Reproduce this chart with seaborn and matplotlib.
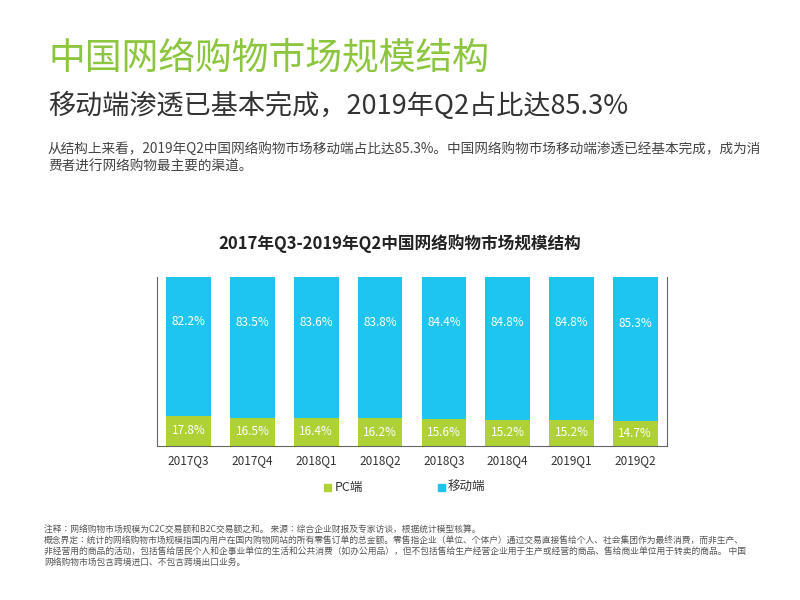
import pandas as pd
import matplotlib.pyplot as plt
import seaborn as sns

plt.rcParams['font.family'] = ['Noto Sans CJK SC', 'Noto Sans CJK JP', 'Noto Sans CJK TC', 'Noto Sans CJK KR', 'DejaVu Sans']

quarters = ['2017Q3', '2017Q4', '2018Q1', '2018Q2', '2018Q3', '2018Q4', '2019Q1', '2019Q2']
pc_share = [17.8, 16.5, 16.4, 16.2, 15.6, 15.2, 15.2, 14.7]
mobile_share = [82.2, 83.5, 83.6, 83.8, 84.4, 84.8, 84.8, 85.3]

green = '#aed136'
blue = '#1ec6ef'

df = pd.DataFrame({'quarter': quarters, 'pc': pc_share, 'mobile': mobile_share})
df['total'] = df['pc'] + df['mobile']

fig = plt.figure(figsize=(8, 6), dpi=100)

fig.text(0.06, 0.885, '中国网络购物市场规模结构', fontsize=26.5, color='#8cc63f')
fig.text(0.06, 0.81, '移动端渗透已基本完成，2019年Q2占比达85.3%', fontsize=19.5, color='#333333')
fig.text(0.06, 0.71, '从结构上来看，2019年Q2中国网络购物市场移动端占比达85.3%。中国网络购物市场移动端渗透已经基本完成，成为消\n费者进行网络购物最主要的渠道。',
         fontsize=9.8, color='#444444', linespacing=1.4, va='bottom')
fig.text(0.5, 0.585, '2017年Q3-2019年Q2中国网络购物市场规模结构', fontsize=12, fontweight='bold',
         ha='center', color='#222222')

ax = fig.add_axes([0.196, 0.257, 0.638, 0.281])
sns.barplot(data=df, x='quarter', y='total', color=blue, width=0.7, ax=ax, saturation=1)
sns.barplot(data=df, x='quarter', y='pc', color=green, width=0.7, ax=ax, saturation=1)

for i in range(len(quarters)):
    ax.text(i, pc_share[i] / 2, f'{pc_share[i]:.1f}%', ha='center', va='center', color='white', fontsize=8.5)
    ax.text(i, pc_share[i] + mobile_share[i] * 0.68, f'{mobile_share[i]:.1f}%', ha='center', va='center',
            color='white', fontsize=8.5)

ax.set_ylim(0, 100)
ax.set_xlim(-0.5, len(quarters) - 0.5)
ax.set_yticks([])
ax.set_xlabel('')
ax.set_ylabel('')
ax.tick_params(axis='x', length=0, labelsize=8.5, colors='#333333', pad=6)
ax.spines['top'].set_visible(False)
for s in ['left', 'right', 'bottom']:
    ax.spines[s].set_color('#666666')
    ax.spines[s].set_linewidth(0.8)

fig.patches.append(plt.Rectangle((0.405, 0.182), 0.009, 0.012, transform=fig.transFigure, color=green))
fig.text(0.418, 0.188, 'PC端', fontsize=9, va='center', color='#333333')
fig.patches.append(plt.Rectangle((0.547, 0.182), 0.009, 0.012, transform=fig.transFigure, color=blue))
fig.text(0.56, 0.188, '移动端', fontsize=9, va='center', color='#333333')

fig.text(0.055, 0.055, '注释：网络购物市场规模为C2C交易额和B2C交易额之和。 来源：综合企业财报及专家访谈，根据统计模型核算。\n'
         '概念界定：统计的网络购物市场规模指国内用户在国内购物网站的所有零售订单的总金额。零售指企业（单位、个体户）通过交易直接售给个人、社会集团作为最终消费，而非生产、\n'
         '非经营用的商品的活动，包括售给居民个人和企事业单位的生活和公共消费（如办公用品），但不包括售给生产经营企业用于生产或经营的商品、售给商业单位用于转卖的商品。 中国\n'
         '网络购物市场包含跨境进口、不包含跨境出口业务。',
         fontsize=6.3, color='#555555', linespacing=1.3, va='bottom')

fig.savefig('out.png', dpi=100)
